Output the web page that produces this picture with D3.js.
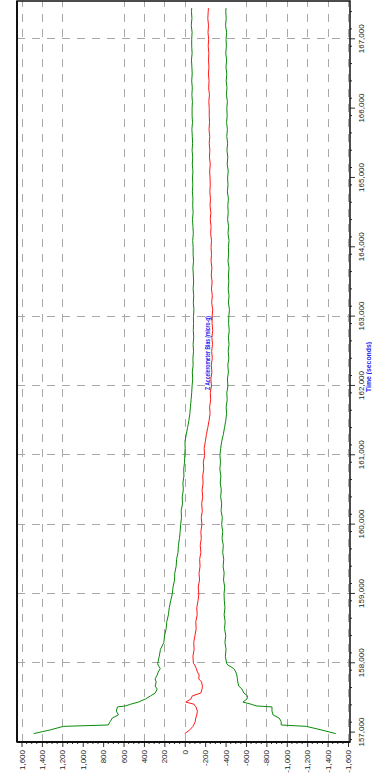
<!DOCTYPE html>
<html>
<head>
<meta charset="utf-8">
<script src="https://cdn.jsdelivr.net/npm/d3@7"></script>
<style>
  body { margin: 0; background: #fff; }
  svg { display: block; }
  text { font-family: "Liberation Sans", Arial, sans-serif; }
</style>
</head>
<body>
<div id="chart"></div>
<script>
// DATA (time in seconds, bias in micro-g)
const time = [
  156985, 157040, 157090, 157110, 157160, 157210, 157255, 157310, 157370, 157385,
  157410, 157440, 157485, 157530, 157570, 157630, 157670, 157730, 157775, 157830,
  157875, 157925, 157975,
  158000, 158100, 158200, 158300, 158400, 158500, 158600, 158700, 158800, 158900,
  159000, 159100, 159200, 159300, 159400, 159500, 159600, 159700, 159800, 159900,
  160000, 160100, 160200, 160300, 160400, 160500, 160600, 160700, 160800, 160900,
  161000, 161100, 161200, 161300, 161400, 161500, 161600, 161700, 161800, 161900,
  162000, 162100, 162200, 162300, 162400, 162500, 162600, 162700, 162800, 162900,
  163000, 163100, 163200, 163300, 163400, 163500, 163600, 163700, 163800, 163900,
  164000, 164100, 164200, 164300, 164400, 164500, 164600, 164700, 164800, 164900,
  165000, 165100, 165200, 165300, 165400, 165500, 165600, 165700, 165800, 165900,
  166000, 166100, 166200, 166300, 166400, 166500, 166600, 166700, 166800, 166900,
  167000, 167100, 167200, 167300, 167400, 167450
];
const upperBound = [
  1480, 1315, 1190, 750, 730, 710, 650, 670, 660, 580,
  530, 455, 385, 335, 290, 270, 290, 280, 290, 270,
  260, 240, 262,
  265, 250, 238, 205, 198, 182, 176, 160, 152, 138,
  122, 115, 100, 98, 84, 80, 66, 62, 52, 45,
  40, 32, 35, 22, 25, 14, 18, 8, 10, 2,
  0, -4, -2, -15, -28, -40, -50, -56, -62, -68,
  -72, -78, -74, -82, -80, -86, -82, -88, -84, -86,
  -85, -90, -84, -88, -82, -87, -84, -80, -86, -82,
  -82, -78, -84, -80, -76, -82, -78, -80, -75, -79,
  -76, -80, -74, -78, -72, -77, -74, -70, -76, -72,
  -72, -75, -70, -74, -68, -73, -70, -66, -72, -68,
  -68, -72, -64, -70, -66, -68
];
const bias = [
  0, -50, -80, -88, -103, -108, -118, -124, -110, -100,
  -91, -10, -60, -75, -157, -170, -173, -165, -137, -141,
  -124, -113, -98,
  -85, -80, -92, -88, -100, -112, -108, -122, -118, -130,
  -138, -132, -145, -140, -150, -146, -158, -152, -162, -158,
  -168, -162, -172, -166, -176, -170, -180, -176, -186, -182,
  -195, -190, -202, -212, -226, -238, -248, -244, -254, -250,
  -262, -256, -266, -260, -270, -264, -272, -266, -274, -268,
  -268, -274, -264, -270, -262, -268, -260, -266, -258, -262,
  -258, -262, -254, -258, -250, -256, -248, -252, -246, -250,
  -248, -244, -250, -242, -246, -240, -245, -238, -243, -240,
  -240, -236, -242, -234, -238, -232, -237, -233, -236, -230,
  -234, -228, -233, -226, -230, -232
];
const lowerBound = [
  -1480, -1335, -1190, -945, -945, -925, -865, -855, -855, -700,
  -650, -570, -610, -615, -580, -560, -530, -520, -516, -510,
  -500, -480, -422,
  -410, -398, -405, -394, -402, -390, -396, -386, -394, -388,
  -385, -392, -380, -386, -376, -382, -372, -378, -366, -372,
  -362, -368, -356, -362, -352, -358, -348, -354, -344, -350,
  -345, -352, -362, -378, -390, -402, -410, -406, -416, -412,
  -423, -418, -428, -422, -432, -426, -434, -428, -436, -430,
  -432, -438, -428, -434, -426, -432, -428, -434, -424, -430,
  -428, -434, -424, -430, -420, -426, -422, -428, -418, -424,
  -420, -426, -416, -422, -414, -420, -412, -418, -410, -416,
  -412, -418, -408, -414, -406, -412, -404, -410, -402, -408,
  -405, -410, -400, -406, -402, -404
];

const valueTicks = [1600, 1400, 1200, 1000, 800, 600, 400, 200, 0, -200, -400, -600, -800, -1000, -1200, -1400, -1600];
const timeTicks = [157000, 158000, 159000, 160000, 161000, 162000, 163000, 164000, 165000, 166000, 167000];
const valueGrid = [1600, 1400, 1200, 600, 400, 200, 0, -600, -800, -1000, -1200, -1400, -1600];
const timeGrid = [158000, 159000, 160000, 161000, 162000, 163000, 167000];

const chartTitle = "Z Accelerometer Bias (micro-g)";
const timeLabel = "Time (seconds)";

// CONFIG
const pageW = 372, pageH = 776;
// the chart is drawn landscape then turned a quarter turn
const plot = { left: 34, right: 775, top: 17, bottom: 350 };
const GREEN = '#0a8a0a', RED = '#ff1a1a', BLUE = '#1c1cf0', GRID = '#a8a8a8';

const svg = d3.select("#chart").append("svg")
  .attr("width", pageW)
  .attr("height", pageH);

svg.append("rect").attr("width", pageW).attr("height", pageH).attr("fill", "#fff");

const g = svg.append("g")
  .attr("transform", `translate(0,${pageH}) rotate(-90)`);

const x = d3.scaleLinear().domain([157000, 167000]).range([43.4, 736.7]);
const y = d3.scaleLinear().domain([1600, -1600]).range([21.5, 348]);

const fmt = v => d3.format(",")(v).replace("\u2212", "-");

// GRID
g.append("g").selectAll("line").data(valueGrid).join("line")
  .attr("x1", plot.left).attr("x2", plot.right)
  .attr("y1", d => Math.round(y(d)) + 0.5).attr("y2", d => Math.round(y(d)) + 0.5)
  .attr("stroke", GRID).attr("stroke-dasharray", "8,7");

g.append("g").selectAll("line").data(timeGrid).join("line")
  .attr("x1", d => Math.round(x(d)) + 0.5).attr("x2", d => Math.round(x(d)) + 0.5)
  .attr("y1", plot.top).attr("y2", plot.bottom)
  .attr("stroke", GRID).attr("stroke-dasharray", "8,7");

// SERIES
const rows = time.map((t, i) => ({ t, up: upperBound[i], mid: bias[i], lo: lowerBound[i] }));
const series = [
  { key: 'up', color: GREEN },
  { key: 'lo', color: GREEN },
  { key: 'mid', color: RED }
];
series.forEach(s => {
  const line = d3.line().x(d => x(d.t)).y(d => y(d[s.key]));
  g.append("path")
    .datum(rows)
    .attr("d", line)
    .attr("fill", "none")
    .attr("stroke", s.color)
    .attr("stroke-width", 1);
});

// AXES
const valueAxis = d3.axisLeft(y)
  .tickValues(valueTicks)
  .tickFormat(fmt)
  .tickSize(5)
  .tickPadding(3);
const va = g.append("g").attr("transform", `translate(${plot.left},0)`).call(valueAxis);

const timeAxis = d3.axisBottom(x)
  .tickValues(timeTicks)
  .tickFormat(fmt)
  .tickSize(5)
  .tickPadding(3);
const ta = g.append("g").attr("transform", `translate(0,${plot.bottom})`).call(timeAxis);

[va, ta].forEach(a => {
  a.select(".domain").remove();
  a.selectAll("line").attr("stroke", "#333");
  a.selectAll("text").attr("font-size", 8).attr("fill", "#222")
    .attr("font-family", '"Liberation Sans", Arial, sans-serif');
});

// minor ticks
const minorV = d3.range(-1600, 1601, 50).filter(v => v % 200 !== 0);
g.append("g").selectAll("line").data(minorV).join("line")
  .attr("x1", plot.left - 2).attr("x2", plot.left)
  .attr("y1", d => y(d)).attr("y2", d => y(d))
  .attr("stroke", "#333");
const minorT = d3.range(156900, 167600, 250).filter(t => t % 1000 !== 0 && t > 156870 && t < 167540);
g.append("g").selectAll("line").data(minorT).join("line")
  .attr("x1", d => x(d)).attr("x2", d => x(d))
  .attr("y1", plot.bottom).attr("y2", plot.bottom + 2)
  .attr("stroke", "#333");

// FRAME
g.append("rect")
  .attr("x", plot.left).attr("y", plot.top)
  .attr("width", plot.right - plot.left).attr("height", plot.bottom - plot.top)
  .attr("fill", "none").attr("stroke", "#111").attr("stroke-width", 1.5);
g.append("line")
  .attr("x1", plot.left).attr("x2", plot.left)
  .attr("y1", plot.top).attr("y2", plot.bottom)
  .attr("stroke", "#111").attr("stroke-width", 2);
g.append("line")
  .attr("x1", plot.left).attr("x2", plot.right)
  .attr("y1", plot.top).attr("y2", plot.top)
  .attr("stroke", "#111").attr("stroke-width", 2);

// TITLES
g.append("text")
  .attr("x", 423).attr("y", 210)
  .attr("text-anchor", "middle")
  .attr("font-size", 7.5).attr("font-weight", "bold")
  .attr("textLength", 74).attr("lengthAdjust", "spacingAndGlyphs")
  .attr("fill", BLUE)
  .text(chartTitle);

g.append("text")
  .attr("x", 409).attr("y", 371)
  .attr("text-anchor", "middle")
  .attr("font-size", 7.5).attr("font-weight", "bold")
  .attr("textLength", 50).attr("lengthAdjust", "spacingAndGlyphs")
  .attr("fill", BLUE)
  .text(timeLabel);
</script>
</body>
</html>
